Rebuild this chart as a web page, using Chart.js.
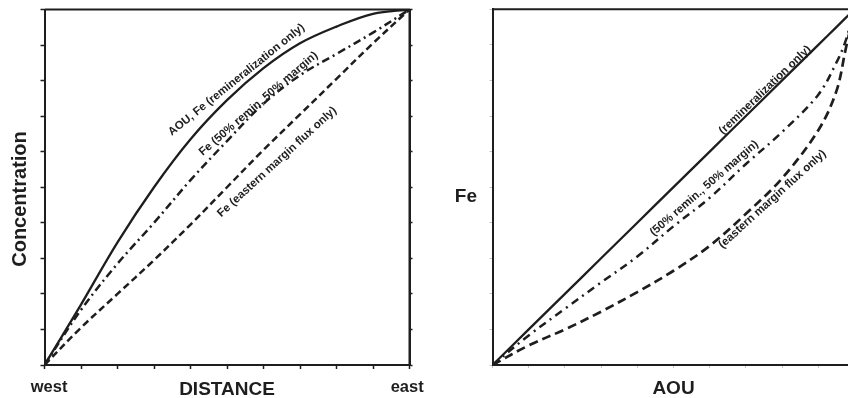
<!DOCTYPE html>
<html><head><meta charset="utf-8">
<script src="https://cdn.jsdelivr.net/npm/chart.js@4.4.1/dist/chart.umd.min.js"></script>
<style>
html,body{margin:0;padding:0;background:#fff;overflow:hidden;width:848px;height:398px;}
#wrap{position:relative;width:848px;height:398px;overflow:hidden;background:#fff;}
#c1{position:absolute;left:0;top:0;}
#c2{position:absolute;left:436px;top:0;}
</style></head><body>
<div id="wrap">
<canvas id="c1" width="430" height="398"></canvas>
<canvas id="c2" width="424" height="398"></canvas>
</div>
<script>
// ---- data (normalised units) ----
const distanceX  = [0, 0.1, 0.2, 0.3, 0.4, 0.5, 0.6, 0.7, 0.8, 0.9, 1];
const concRemin  = [0, 0.17, 0.345, 0.5, 0.635, 0.745, 0.835, 0.905, 0.952, 0.988, 1];
const concMixed  = [0, 0.155, 0.285, 0.4, 0.52, 0.63, 0.735, 0.815, 0.875, 0.935, 1];
const concMargin = [0, 0.105, 0.2, 0.295, 0.395, 0.5, 0.605, 0.705, 0.805, 0.905, 1];

const aouX     = [0, 0.1, 0.2, 0.3, 0.4, 0.5, 0.6, 0.7, 0.8, 0.9, 0.95, 0.975, 1];
const feRemin  = [0, 0.1, 0.2, 0.3, 0.4, 0.5, 0.6, 0.7, 0.8, 0.9, 0.95, 0.975, 1];
const feMixed  = [0, 0.083, 0.158, 0.232, 0.305, 0.39, 0.47, 0.565, 0.655, 0.76, 0.85, 0.91, 1];
const feMargin = [0, 0.055, 0.1, 0.15, 0.205, 0.265, 0.335, 0.425, 0.525, 0.66, 0.77, 0.885, 1];

const distanceTickLabels = ['  west','','','','','DISTANCE','','','','','east '];
const aouTickLabels = ['','','','','','AOU','','','','',''];
const feTickLabels  = ['','','','','','Fe','','','','',''];

const leftCurveLabels = [
  {text:'AOU, Fe (remineralization only)', x:0.526, y:0.802, angle:-38.8},
  {text:'Fe (50% remin, 50% margin)',      x:0.586, y:0.735, angle:-40.8},
  {text:'Fe (eastern margin flux only)',   x:0.637, y:0.571, angle:-42.5},
  {text:'Concentration', x:-0.066, y:0.467, angle:-90, size:20}
];
const rightCurveLabels = [
  {text:'(remineralization only)',   x:0.753, y:0.773, angle:-43.8},
  {text:'(50% remin., 50% margin)',  x:0.585, y:0.497, angle:-40.9},
  {text:'(eastern margin flux only)',x:0.773, y:0.466, angle:-42.2}
];

// ---- styling ----
const INK = '#1e1e1e';
const FAM = "'Liberation Sans', Arial, Helvetica, sans-serif";
Chart.defaults.font.family = FAM;

function pts(xs, ys){ return xs.map((x,i)=>({x:x, y:ys[i]})); }

function fixSize(prop, val){
  return s => { s[prop] = val; s.paddingLeft = 0; s.paddingRight = 0; s.paddingTop = 0; s.paddingBottom = 0; };
}

function textPlugin(items){
  return {
    id:'curveText',
    afterDraw(chart){
      const {ctx, scales, chartArea} = chart;
      ctx.save();
      ctx.strokeStyle = INK; ctx.lineWidth = 2;
      ctx.beginPath();
      ctx.moveTo(chartArea.left, chartArea.top);
      ctx.lineTo(chartArea.right, chartArea.top);
      ctx.lineTo(chartArea.right, chartArea.bottom);
      ctx.stroke();
      ctx.restore();
      items.forEach(it=>{
        ctx.save();
        ctx.translate(scales.x.getPixelForValue(it.x), scales.y.getPixelForValue(it.y));
        ctx.rotate(it.angle*Math.PI/180);
        ctx.font = 'bold ' + (it.size||11.5) + 'px ' + FAM;
        ctx.fillStyle = INK;
        ctx.textAlign = 'center'; ctx.textBaseline = 'middle';
        ctx.fillText(it.text, 0, 0);
        ctx.restore();
      });
    }
  };
}

function line(data, width, dash){
  return {data:data, borderColor:INK, borderWidth:width, borderDash:dash, pointRadius:0,
          tension:0.35, fill:false, showLine:true};
}

// ---- left panel ----
new Chart(document.getElementById('c1'), {
  type:'scatter',
  data:{datasets:[
    line(pts(distanceX, concRemin), 2.3, []),
    line(pts(distanceX, concMixed), 2.5, [8,4,2,4]),
    line(pts(distanceX, concMargin), 2.5, [7,4])
  ]},
  options:{
    responsive:false, animation:false, devicePixelRatio:1,
    layout:{padding:{top:9.5, right:16.5, left:0, bottom:0}},
    plugins:{legend:{display:false}, tooltip:{enabled:false}},
    scales:{
      x:{type:'linear', min:0, max:1, position:'bottom',
        afterFit:fixSize('height', 33),
        border:{display:true, color:INK, width:2},
        grid:{drawOnChartArea:false, drawTicks:true, tickLength:4, tickColor:INK, tickWidth:1.5},
        ticks:{stepSize:0.1, autoSkip:false, maxRotation:0, minRotation:0, padding:9, color:INK,
          font:c=>({family:FAM, weight:'bold', size:(c.index===5?19:16.5)}),
          callback:(v,i)=>distanceTickLabels[i]}
      },
      y:{type:'linear', min:0, max:1, position:'left',
        afterFit:fixSize('width', 44.5),
        border:{display:true, color:INK, width:2},
        grid:{drawOnChartArea:false, drawTicks:true, tickLength:4, tickColor:INK, tickWidth:1.5},
        ticks:{stepSize:0.1, display:false}
      },
      y2:{type:'linear', min:0, max:1, position:'right',
        afterFit:fixSize('width', 4),
        border:{display:true, color:INK, width:2},
        grid:{drawOnChartArea:false, drawTicks:true, tickLength:3, tickColor:INK, tickWidth:1.5},
        ticks:{stepSize:0.1, display:false}
      }
    }
  },
  plugins:[textPlugin(leftCurveLabels)]
});

// ---- right panel ----
new Chart(document.getElementById('c2'), {
  type:'scatter',
  data:{datasets:[
    line(pts(aouX, feRemin), 2.3, []),
    line(pts(aouX, feMixed), 2.5, [8,5,2,5]),
    line(pts(aouX, feMargin), 2.7, [9,5])
  ]},
  options:{
    responsive:false, animation:false, devicePixelRatio:1,
    layout:{padding:{top:9.3, right:5.5, left:0, bottom:0}},
    plugins:{legend:{display:false}, tooltip:{enabled:false}},
    scales:{
      x:{type:'linear', min:0, max:1, position:'bottom',
        afterFit:fixSize('height', 33),
        border:{display:true, color:INK, width:2},
        grid:{drawOnChartArea:false, drawTicks:true, tickLength:3, tickColor:'#c4c4c4', tickWidth:1},
        ticks:{stepSize:0.1, autoSkip:false, maxRotation:0, minRotation:0, padding:9, color:INK,
          font:{family:FAM, weight:'bold', size:19},
          callback:(v,i)=>aouTickLabels[i]}
      },
      y:{type:'linear', min:0, max:1, position:'left',
        afterFit:fixSize('width', 56.5),
        border:{display:true, color:INK, width:2},
        grid:{drawOnChartArea:false, drawTicks:true, tickLength:3, tickColor:'#c4c4c4', tickWidth:1},
        ticks:{stepSize:0.1, autoSkip:false, padding:12.5, labelOffset:10, color:INK,
          font:{family:FAM, weight:'bold', size:19},
          callback:(v,i)=>feTickLabels[i]}
      }
    }
  },
  plugins:[textPlugin(rightCurveLabels)]
});
</script>
</body></html>
